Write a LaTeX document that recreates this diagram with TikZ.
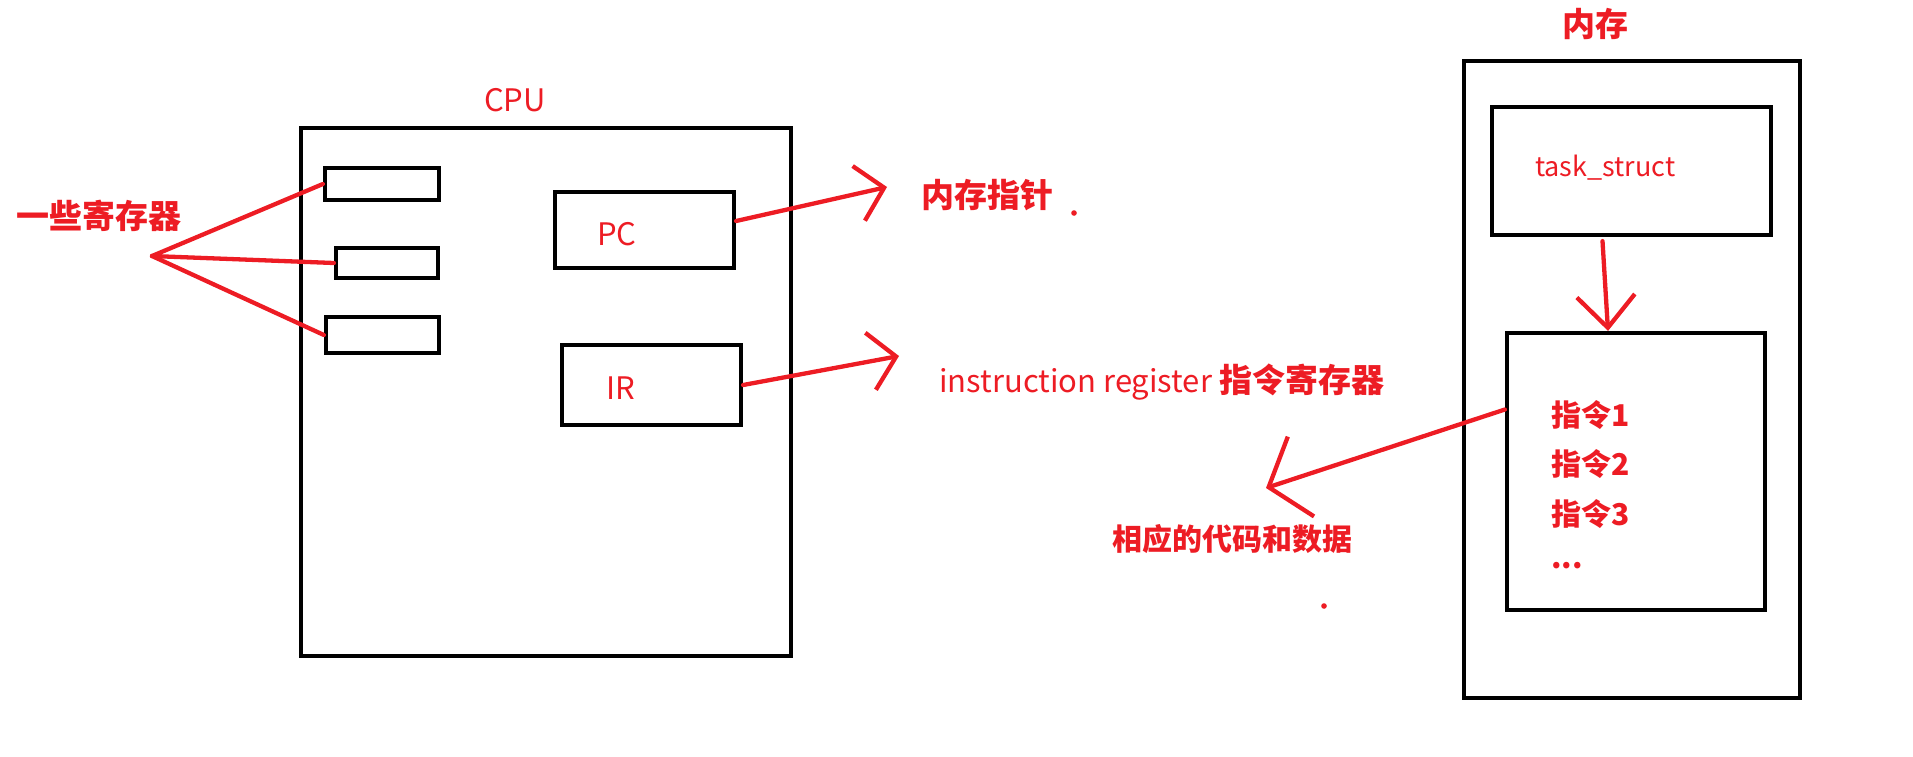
\documentclass[tikz,border=0pt]{standalone}
\usepackage{fontspec}
\setmainfont{Noto Sans CJK SC}
\usetikzlibrary{arrows.meta,calc}
\definecolor{pred}{RGB}{237,28,36}
\tikzset{
  box/.style={draw=black,line width=4.2pt,inner sep=0pt},
  lbl/.style={text=pred,inner sep=0pt,font=\fontsize{31}{34}\selectfont},
  blbl/.style={text=pred,inner sep=0pt,font=\fontsize{33}{36}\selectfont\bfseries},
  slbl/.style={text=pred,inner sep=0pt,font=\fontsize{30}{33}\selectfont\bfseries},
  rline/.style={draw=pred,line width=4.3pt,line cap=round},
}
\begin{document}
\begin{tikzpicture}[x=1pt,y=-1pt]
\useasboundingbox (0,0) rectangle (1913,756);
% CPU
\node[box,minimum width=490pt,minimum height=528pt] (cpu) at (546,392) {};
\node[lbl] (cpulbl) at (515,100) {CPU};
\node[box,minimum width=114pt,minimum height=32pt] (reg1) at (382,184) {};
\node[box,minimum width=102pt,minimum height=30pt] (reg2) at (387,263) {};
\node[box,minimum width=113pt,minimum height=36pt] (reg3) at (382.5,335) {};
\node[box,minimum width=179pt,minimum height=76pt] (pc) at (644.5,230) {};
\node[lbl] (pctext) at (617,234) {PC};
\node[box,minimum width=179pt,minimum height=80pt] (ir) at (651.5,385) {};
\node[lbl] (irtext) at (621,388) {IR};
% left label and fan
\node[blbl] (regs) at (99,216) {一些寄存器};
\coordinate (fan) at (152,256);
\draw[rline] (fan) -- (reg1.west);
\draw[rline] (fan) -- (reg2.west);
\draw[rline] (fan) -- (reg3.west);
% PC arrow
\node[blbl,anchor=west] (memptr) at (921,195) {内存指针};
\coordinate (pctip) at (887,187);
\draw[rline,-{Straight Barb[length=26pt,width=56pt]}] ($(pc.east)+(0,-9)$) -- (pctip);
\fill[pred] (1074,213) circle (2.8pt);
% IR arrow
\node[anchor=west,inner sep=0pt,text=pred] (irlbl) at (939,382) {\fontsize{31}{34}\selectfont instruction register \fontsize{33}{36}\selectfont\bfseries 指令寄存器};
\coordinate (irtip) at (899,356);
\draw[rline,-{Straight Barb[length=26pt,width=58pt]}] (ir.east) -- (irtip);
% memory
\node[box,minimum width=336pt,minimum height=637pt] (mem) at (1632,379.5) {};
\node[blbl] (memlbl) at (1595,24) {内存};
\node[box,minimum width=279pt,minimum height=128pt] (task) at (1631.5,171) {};
\node[text=pred,inner sep=0pt,font=\fontsize{27}{30}\selectfont,anchor=west] (tasktext) at (1535,168) {task\_struct};
\node[box,minimum width=258pt,minimum height=277pt] (instr) at (1636,471.5) {};
\node[slbl,anchor=west] (i1) at (1551,415) {指令1};
\node[slbl,anchor=west] (i2) at (1551,464) {指令2};
\node[slbl,anchor=west] (i3) at (1551,514) {指令3};
\node[slbl,anchor=west] (i4) at (1551,566) {...};
\draw[rline,-{Straight Barb[length=32pt,width=58pt]}] ($(task.south)+(-29,4)$) -- ($(instr.north)+(-28,0)$);
% code and data arrow
\node[slbl,anchor=west] (code) at (1112,539) {相应的代码和数据};
\coordinate (codetip) at (1266,488);
\draw[rline,-{Straight Barb[length=34pt,width=84pt]}] ($(instr.west)+(0,-62)$) -- (codetip);
\fill[pred] (1324,606) circle (2.8pt);
\end{tikzpicture}
\end{document}
